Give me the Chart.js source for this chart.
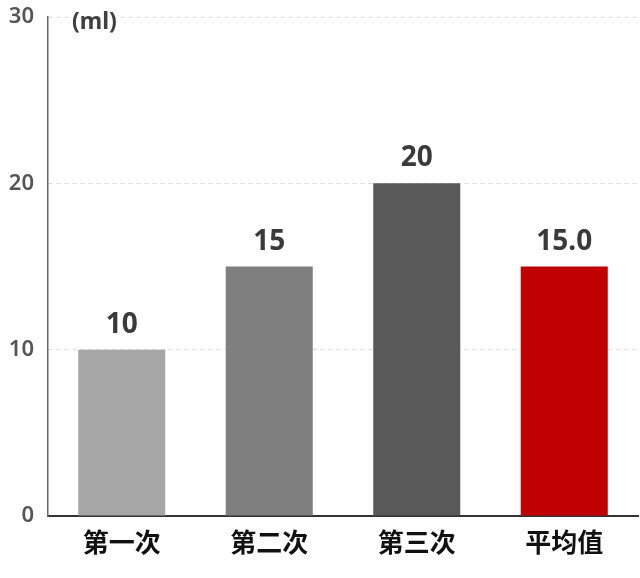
<!DOCTYPE html>
<html>
<head>
<meta charset="utf-8">
<script src="https://cdn.jsdelivr.net/npm/chart.js@4"></script>
<style>
html,body{margin:0;padding:0;background:#fff;}
#wrap{width:640px;height:578px;}
</style>
</head>
<body>
<div id="wrap"><canvas id="c" width="640" height="578"></canvas></div>
<script>
const categories = ['第一次', '第二次', '第三次', '平均值'];
const values = [10, 15, 20, 15];
const valueDecimals = [0, 0, 0, 1];
const barColors = ['#a6a6a6', '#7f7f7f', '#595959', '#c00000'];
const yTicks = [0, 10, 20, 30];
const unitLabel = '(ml)';

const labelPlugin = {
  id: 'labels',
  afterDatasetsDraw(chart) {
    const ctx = chart.ctx;
    const meta = chart.getDatasetMeta(0);
    ctx.save();
    ctx.font = 'bold 28px "Noto Sans", sans-serif';
    ctx.fillStyle = '#3a3a3a';
    ctx.textAlign = 'center';
    ctx.textBaseline = 'alphabetic';
    meta.data.forEach((bar, i) => {
      ctx.fillText(values[i].toFixed(valueDecimals[i]), bar.x, bar.y - 17);
    });
    ctx.font = 'bold 23px "Noto Sans", sans-serif';
    ctx.fillStyle = '#404040';
    ctx.textAlign = 'left';
    ctx.fillText(unitLabel, chart.chartArea.left + 24, chart.chartArea.top + 12);
    ctx.restore();
  }
};

new Chart(document.getElementById('c'), {
  type: 'bar',
  data: {
    labels: categories,
    datasets: [{
      data: values,
      backgroundColor: barColors,
      borderWidth: 0,
      barPercentage: 0.59,
      categoryPercentage: 1.0
    }]
  },
  options: {
    responsive: false,
    animation: false,
    devicePixelRatio: 1,
    layout: { padding: { top: 17, right: 2, left: 0, bottom: 0 } },
    plugins: { legend: { display: false }, tooltip: { enabled: false } },
    scales: {
      x: {
        grid: { display: false, drawTicks: false },
        border: { display: true, color: '#333', width: 2 },
        ticks: {
          color: '#111',
          font: { family: '"Noto Sans CJK SC"', size: 26, weight: 'bold' },
          padding: 11
        },
        afterFit(s) { s.height = 62; s.paddingLeft = 0; s.paddingRight = 0; }
      },
      y: {
        min: 0, max: 30,
        afterBuildTicks(s) { s.ticks = yTicks.map(v => ({ value: v })); },
        grid: { color: '#dcdcdc', drawTicks: false },
        border: { display: true, color: '#666', width: 1.5, dash: [4, 4] },
        ticks: {
          color: '#555',
          font: { family: '"Noto Sans"', size: 22, weight: '600' },
          padding: 14
        },
        afterFit(s) { s.width = 48; s.paddingTop = 0; s.paddingBottom = 0; }
      }
    }
  },
  plugins: [labelPlugin]
});
</script>
</body>
</html>
